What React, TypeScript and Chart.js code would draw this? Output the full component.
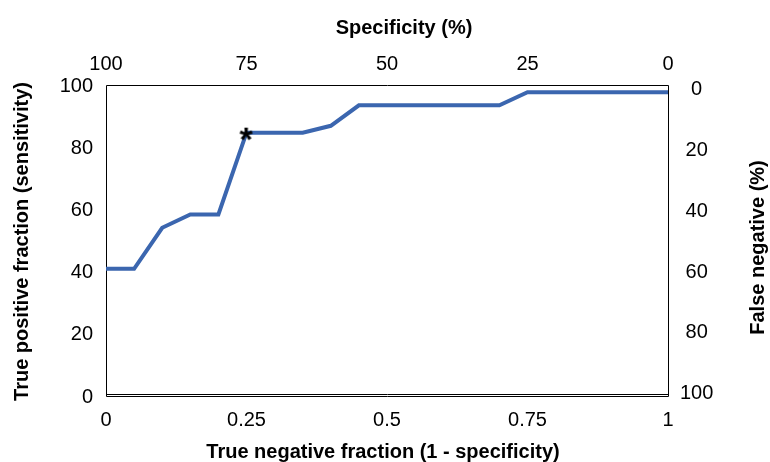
import React, { useEffect, useRef } from "react";
import { Chart, registerables } from "chart.js";

Chart.register(...registerables);

// ---- data ----
const fprValues = [0, 0.05, 0.1, 0.15, 0.2, 0.25, 0.35, 0.4, 0.45, 0.7, 0.75, 1];
const tprValues = [41.2, 41.2, 54.4, 58.7, 58.7, 85.0, 85.0, 87.2, 93.8, 93.8, 98.0, 98.0];
const markerX = [0.25];
const markerY = [85.0];
const bottomTicks = [0, 0.25, 0.5, 0.75, 1];
const topTickLabels = ["100", "75", "50", "25", "0"];
const leftTicks = [0, 20, 40, 60, 80, 100];
const rightTicks = [0, 20, 40, 60, 80, 100];

const xTitle = "True negative fraction (1 - specificity)";
const x2Title = "Specificity (%)";
const yTitle = "True positive fraction (sensitivity)";
const y2Title = "False negative (%)";

const FONT = "'Liberation Sans', Arial, sans-serif";
const LINE_COLOR = "#3B66AF";

function makeAsterisk(): HTMLCanvasElement {
  const c = document.createElement("canvas");
  c.width = 24;
  c.height = 24;
  const ctx = c.getContext("2d")!;
  ctx.fillStyle = "#000";
  ctx.font = `bold 34px ${FONT}`;
  ctx.textAlign = "left";
  ctx.textBaseline = "alphabetic";
  const m = ctx.measureText("*");
  const x = 12 + (m.actualBoundingBoxLeft - m.actualBoundingBoxRight) / 2;
  const y = 13 + (m.actualBoundingBoxAscent - m.actualBoundingBoxDescent) / 2;
  ctx.fillText("*", x, y);
  return c;
}

const framePlugin = {
  id: "frame",
  beforeDatasetsDraw(chart: any) {
    const { ctx, chartArea } = chart;
    const { left, right, top, bottom } = chartArea;
    ctx.save();
    ctx.strokeStyle = "#000";
    ctx.lineWidth = 1;
    ctx.beginPath();
    ctx.moveTo(Math.round(left) + 0.5, Math.round(bottom) - 0.5);
    ctx.lineTo(Math.round(left) + 0.5, Math.round(top) - 0.5);
    ctx.lineTo(Math.round(right) + 0.5, Math.round(top) - 0.5);
    ctx.lineTo(Math.round(right) + 0.5, Math.round(bottom) - 0.5);
    ctx.lineTo(Math.round(left) + 0.5, Math.round(bottom) - 0.5);
    ctx.moveTo(Math.round(left) + 0.5, Math.round(bottom) - 2.5);
    ctx.lineTo(Math.round(right) + 0.5, Math.round(bottom) - 2.5);
    ctx.stroke();
    ctx.restore();
  },
  afterDraw(chart: any) {
    const { ctx, chartArea } = chart;
    const cx = (chartArea.left + chartArea.right) / 2;
    ctx.save();
    ctx.fillStyle = "#000";
    ctx.font = `bold 20px ${FONT}`;
    ctx.textAlign = "center";
    ctx.textBaseline = "middle";
    ctx.fillText(x2Title, cx + 17, 28);
    ctx.fillText(xTitle, cx - 4, 452);
    ctx.save();
    ctx.translate(22, (chartArea.top + chartArea.bottom) / 2);
    ctx.rotate(-Math.PI / 2);
    ctx.fillText(yTitle, 0, 0);
    ctx.restore();
    ctx.save();
    ctx.translate(758, (chartArea.top + chartArea.bottom) / 2 + 6);
    ctx.rotate(-Math.PI / 2);
    ctx.fillText(y2Title, 0, 0);
    ctx.restore();
    ctx.restore();
  },
};

export default function App() {
  const ref = useRef<HTMLCanvasElement | null>(null);

  useEffect(() => {
    document.body.style.margin = "0";
    const canvas = ref.current!;
    const tickFont = { family: FONT, size: 20 };
    const chart = new Chart(canvas, {
      type: "line",
      data: {
        datasets: [
          {
            data: fprValues.map((x, i) => ({ x, y: tprValues[i] })),
            borderColor: LINE_COLOR,
            backgroundColor: LINE_COLOR,
            borderWidth: 4,
            pointRadius: 0,
            tension: 0,
            order: 2,
            xAxisID: "x",
            yAxisID: "y",
          },
          {
            data: markerX.map((x, i) => ({ x, y: markerY[i] })),
            showLine: false,
            pointStyle: makeAsterisk() as any,
            pointRadius: 8,
            order: 1,
            xAxisID: "x",
            yAxisID: "y",
          },
        ],
      },
      options: {
        responsive: false,
        animation: false,
        layout: { padding: 0 },
        plugins: {
          legend: { display: false },
          tooltip: { enabled: false },
        },
        scales: {
          x: {
            type: "linear",
            position: "bottom",
            min: 0,
            max: 1,
            afterBuildTicks: (s: any) => {
              s.ticks = bottomTicks.map((v) => ({ value: v }));
            },
            afterFit: (s: any) => {
              s.height = 65;
            },
            ticks: {
              font: tickFont,
              color: "#000",
              padding: 11,
              maxRotation: 0,
              callback: (v: any) => String(v),
            },
            grid: { display: false, drawTicks: false },
            border: { display: false },
          },
          x2: {
            type: "linear",
            position: "top",
            min: 0,
            max: 1,
            afterBuildTicks: (s: any) => {
              s.ticks = bottomTicks.map((v) => ({ value: v }));
            },
            afterFit: (s: any) => {
              s.height = 86;
            },
            ticks: {
              font: tickFont,
              color: "#000",
              padding: 10,
              maxRotation: 0,
              callback: (_v: any, i: number) => topTickLabels[i],
            },
            grid: { display: false, drawTicks: false },
            border: { display: false },
          },
          y: {
            type: "linear",
            position: "left",
            min: 0,
            max: 100,
            afterBuildTicks: (s: any) => {
              s.ticks = leftTicks.map((v) => ({ value: v }));
            },
            afterFit: (s: any) => {
              s.width = 106;
            },
            ticks: { font: tickFont, color: "#000", padding: 13 },
            grid: { display: false, drawTicks: false },
            border: { display: false },
          },
          y2: {
            type: "linear",
            position: "right",
            reverse: true,
            min: -1.3,
            max: 101.2,
            afterBuildTicks: (s: any) => {
              s.ticks = rightTicks.map((v) => ({ value: v }));
            },
            afterFit: (s: any) => {
              s.width = 102;
            },
            ticks: {
              font: tickFont,
              color: "#000",
              padding: 12,
              crossAlign: "center",
            },
            grid: { display: false, drawTicks: false },
            border: { display: false },
          },
        },
      },
      plugins: [framePlugin],
    });
    return () => chart.destroy();
  }, []);

  return (
    <div style={{ width: 770, height: 462, background: "#fff" }}>
      <canvas ref={ref} width={770} height={462} style={{ display: "block" }} />
    </div>
  );
}
